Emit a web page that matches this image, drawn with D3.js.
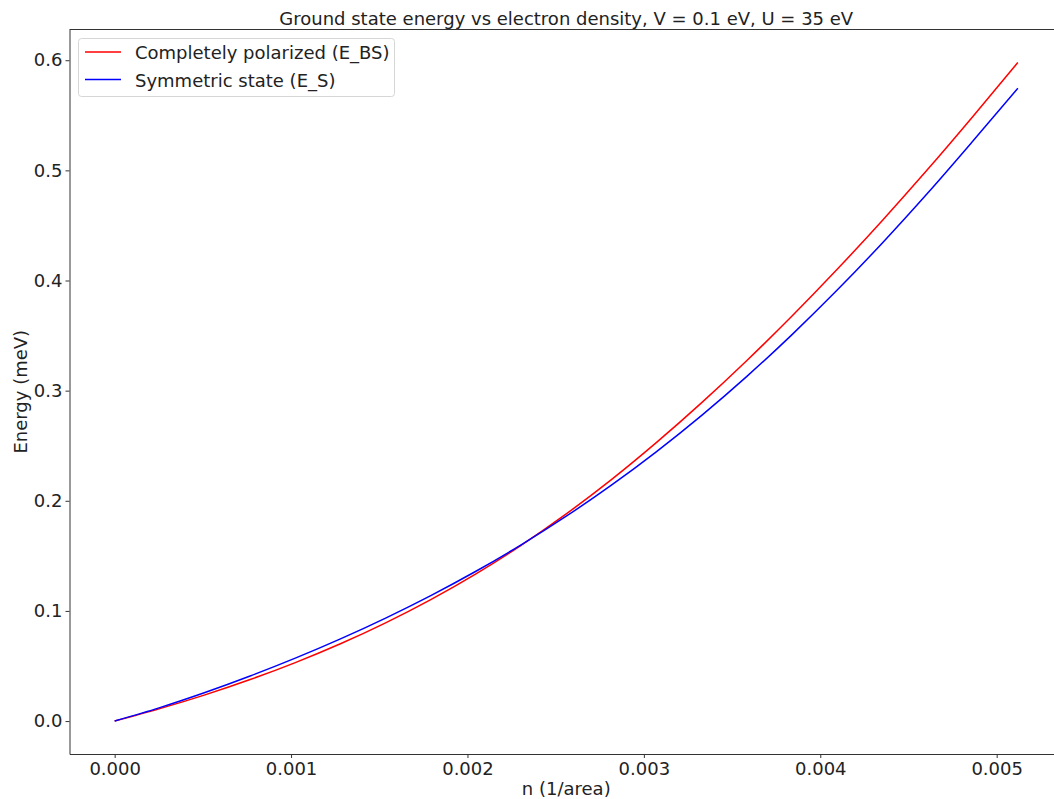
<!DOCTYPE html>
<html>
<head>
<meta charset="utf-8">
<script src="https://cdn.jsdelivr.net/npm/d3@7"></script>
<style>
  html, body { margin: 0; padding: 0; background: #fff; }
  svg { display: block; font-family: "DejaVu Sans", sans-serif; }
</style>
</head>
<body>
<svg id="chart" width="1054" height="799"></svg>
<script>
// Electron density n (1/area)
const density = [
  0.000000, 0.000256, 0.000512, 0.000768, 0.001024, 0.001280, 0.001536,
  0.001792, 0.002048, 0.002304, 0.002560, 0.002816, 0.003072, 0.003328,
  0.003584, 0.003840, 0.004096, 0.004352, 0.004608, 0.004864, 0.005120
];
// Completely polarized state energy E_BS (meV)
const energyPolarized = [
  0.0000, 0.0113, 0.0238, 0.0377, 0.0531, 0.0702, 0.0892,
  0.1103, 0.1337, 0.1596, 0.1881, 0.2192, 0.2530, 0.2891,
  0.3274, 0.3678, 0.4102, 0.4545, 0.5007, 0.5487, 0.5980
];
// Symmetric state energy E_S (meV)
const energySymmetric = [
  0.0000, 0.0122, 0.0259, 0.0409, 0.0571, 0.0746, 0.0935,
  0.1139, 0.1360, 0.1600, 0.1860, 0.2142, 0.2447, 0.2776,
  0.3130, 0.3509, 0.3913, 0.4341, 0.4792, 0.5264, 0.5746
];
const xTicks = [0, 0.001, 0.002, 0.003, 0.004, 0.005];
const yTicks = [0, 0.1, 0.2, 0.3, 0.4, 0.5, 0.6];
const seriesNames = ["Completely polarized (E_BS)", "Symmetric state (E_S)"];
const seriesColors = ["#ff0000", "#0000ff"];

const svg = d3.select("#chart");
const plotLeft = 69.5, plotTop = 29.5, plotRight = 1063, plotBottom = 754;
const fontSize = "18px";

// Axis limits with 5% padding around the data range
const xExt = d3.extent(density);
const xPad = (xExt[1] - xExt[0]) * 0.05;
const yMax = d3.max(energyPolarized.concat(energySymmetric));
const yPad = yMax * 0.05;

const x = d3.scaleLinear().domain([xExt[0] - xPad, xExt[1] + xPad]).range([plotLeft, plotRight]);
const y = d3.scaleLinear().domain([-yPad, yMax + yPad]).range([plotBottom, plotTop]);

const line = d3.line().x(d => x(d[0])).y(d => y(d[1])).curve(d3.curveMonotoneX);

const series = [energyPolarized, energySymmetric];
series.forEach((vals, i) => {
  svg.append("path")
    .datum(density.map((n, j) => [n, vals[j]]))
    .attr("fill", "none")
    .attr("stroke", seriesColors[i])
    .attr("stroke-width", 1.5)
    .attr("stroke-linejoin", "round")
    .attr("d", line);
});

// Axes
const xAxis = svg.append("g")
  .attr("transform", `translate(0,${plotBottom})`)
  .call(d3.axisBottom(x).tickValues(xTicks).tickFormat(d3.format(".3f")).tickSize(4).tickSizeOuter(0));
const yAxis = svg.append("g")
  .attr("transform", `translate(${plotLeft},0)`)
  .call(d3.axisLeft(y).tickValues(yTicks).tickFormat(d3.format(".1f")).tickSize(4).tickSizeOuter(0));

[xAxis, yAxis].forEach(g => {
  g.select(".domain").attr("stroke", "#333").attr("stroke-width", 1);
  g.selectAll(".tick line").attr("stroke", "#333").attr("stroke-width", 1);
  g.selectAll(".tick text")
    .attr("fill", "#222")
    .style("font-size", fontSize)
    .style("font-family", "DejaVu Sans");
});
xAxis.selectAll(".tick text").attr("dy", null).attr("y", 21);
yAxis.selectAll(".tick text").attr("x", -7);

// Top spine
svg.append("line")
  .attr("x1", plotLeft).attr("x2", plotRight)
  .attr("y1", plotTop).attr("y2", plotTop)
  .attr("stroke", "#333").attr("stroke-width", 1);

// Title and axis labels
svg.append("text")
  .attr("x", (plotLeft + plotRight) / 2).attr("y", 25)
  .attr("text-anchor", "middle")
  .attr("fill", "#222")
  .style("font-size", fontSize)
  .text("Ground state energy vs electron density, V = 0.1 eV, U = 35 eV");

svg.append("text")
  .attr("x", (plotLeft + plotRight) / 2).attr("y", 795)
  .attr("text-anchor", "middle")
  .attr("fill", "#222")
  .style("font-size", fontSize)
  .text("n (1/area)");

svg.append("text")
  .attr("transform", `translate(27,${(plotTop + plotBottom) / 2}) rotate(-90)`)
  .attr("text-anchor", "middle")
  .attr("fill", "#222")
  .style("font-size", fontSize)
  .text("Energy (meV)");

// Legend
const legend = svg.append("g");
legend.append("rect")
  .attr("x", 78.5).attr("y", 38.5)
  .attr("width", 316).attr("height", 58)
  .attr("rx", 3).attr("ry", 3)
  .attr("fill", "#fff").attr("fill-opacity", 0.8)
  .attr("stroke", "#d6d6d6").attr("stroke-width", 1);

seriesNames.forEach((name, i) => {
  const ly = 52 + i * 27.5;
  legend.append("line")
    .attr("x1", 85).attr("x2", 121)
    .attr("y1", ly).attr("y2", ly)
    .attr("stroke", seriesColors[i]).attr("stroke-width", 1.5);
  legend.append("text")
    .attr("x", 135).attr("y", ly + 7)
    .attr("fill", "#222")
    .style("font-size", fontSize)
    .text(name);
});
</script>
</body>
</html>
